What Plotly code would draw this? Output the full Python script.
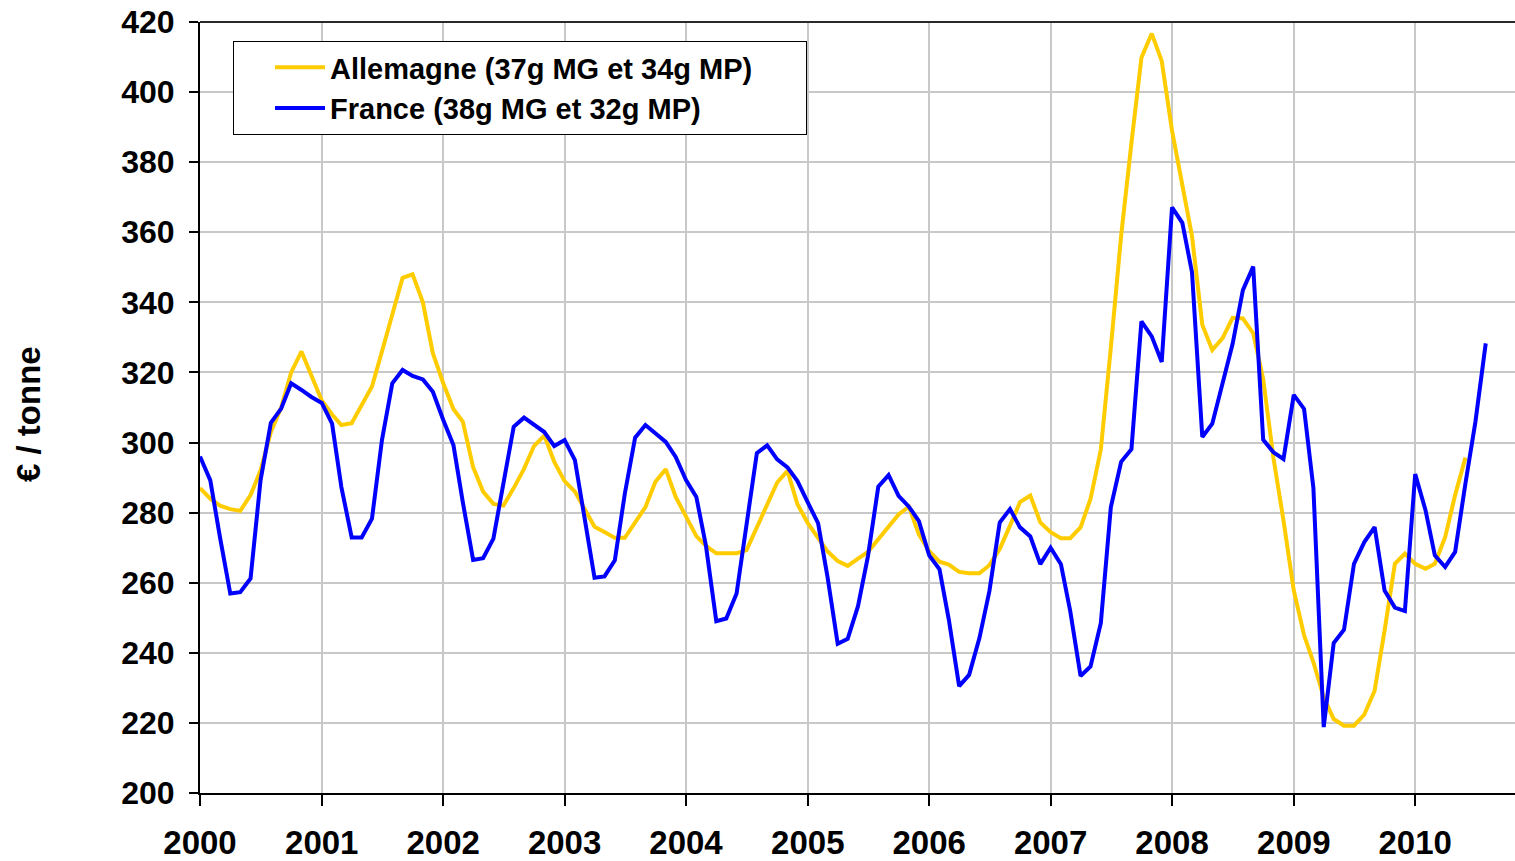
import pandas as pd
import plotly.graph_objects as go

allemagne = [
    287, 284, 282, 281, 280.5, 285, 292, 303, 310, 320, 326, 319,
    312, 308, 305, 305.5, 310.5, 316, 326, 336, 347, 348, 340, 325.5,
    317, 309.5, 306, 293, 286, 282.5, 282, 287, 292.5, 299, 302, 294.5,
    289, 286, 281, 276, 274.5, 272.8, 272.8, 277, 281.6, 288.8, 292.4, 284.5,
    279, 273.3, 270.5, 268.4, 268.4, 268.4, 269.3, 275.7, 282.4, 288.6, 291.9, 282.4,
    277, 272.9, 269, 266.2, 264.8, 266.9, 268.8, 272.4, 276.2, 279.5, 281.7, 273.8,
    269, 266, 265.2, 263.1, 262.7, 262.7, 265, 269.6, 276.3, 283, 284.9, 277.2,
    274.4, 272.7, 272.7, 275.8, 283.9, 298, 327, 359, 385.5, 409.8, 416.7, 408.9,
    389, 373.6, 358.9, 333.6, 326.4, 329.8, 335.6, 335.4, 331.2, 318.1, 295.5, 277.8,
    257.8, 245, 237.3, 227.3, 221.1, 219.2, 219.2, 222.4, 229.2, 246.4, 265.4, 268.3,
    265.4, 264, 265.4, 273, 285, 295.7,
]

france = [
    296, 289.2, 273, 256.9, 257.3, 261.2, 289.2, 305.6, 309.7, 316.9, 315, 313,
    311.3, 305.4, 287.3, 272.9, 272.9, 278.3, 300.7, 316.9, 320.7, 319, 318, 314.5,
    306.5, 299.2, 283, 266.5, 267, 272.6, 288.3, 304.5, 307.1, 305, 303, 299,
    300.7, 295, 278.8, 261.4, 261.8, 266.4, 285.4, 301.4, 305, 302.8, 300.2, 295.9,
    289.3, 284.5, 270.5, 249, 249.8, 256.9, 276.2, 297, 299.2, 295.2, 292.9, 289,
    282.9, 277, 261.9, 242.6, 244, 253.3, 267.6, 287.4, 290.7, 284.8, 281.7, 277.6,
    267.8, 263.8, 249.5, 230.5, 233.7, 244.2, 257.6, 277.2, 281, 275.8, 273.2, 265.3,
    270, 265.3, 251.9, 233.4, 236.1, 248.5, 281.5, 294.5, 298.1, 334.6, 330.3, 323,
    367.1, 362.7, 348.6, 301.6, 305.4, 316.7, 328.1, 343.5, 350.2, 300.8, 297.2, 295.3,
    313.6, 309.6, 287, 218.8, 242.8, 246.6, 265.4, 271.6, 275.9, 257.8, 252.9, 251.9,
    291, 280.7, 267.8, 264.5, 268.8, 288.3, 305.9, 328.3,
]

mois_all = pd.date_range("2000-01-01", periods=len(allemagne), freq="MS")
mois_fr = pd.date_range("2000-01-01", periods=len(france), freq="MS")

FONT = "Liberation Sans, Arial, sans-serif"
PAD = "\u00a0" * 6  # widens the legend box to the right, like the original

fig = go.Figure()
fig.add_trace(go.Scatter(x=mois_all, y=allemagne, mode="lines",
                         name="Allemagne (37g MG et 34g MP)" + PAD,
                         line=dict(color="#FFCC00", width=4)))
fig.add_trace(go.Scatter(x=mois_fr, y=france, mode="lines",
                         name="France (38g MG et 32g MP)",
                         line=dict(color="#0000FF", width=4)))

fig.update_layout(
    width=1515, height=861,
    margin=dict(l=200, r=0, t=22, b=68),
    paper_bgcolor="white", plot_bgcolor="white",
    font=dict(family=FONT, color="black", size=32, weight="bold"),
    showlegend=True,
    legend=dict(x=0.0251, y=0.9754, xanchor="left", yanchor="top",
                bgcolor="white", bordercolor="black", borderwidth=1,
                font=dict(family=FONT, size=29, weight="bold"),
                itemwidth=50, tracegroupgap=0, indentation=36),
)
fig.update_xaxes(
    type="date", range=["2000-01-01", "2010-10-28"],
    dtick="M12", tick0="2000-01-01", tickformat="%Y",
    showgrid=True, gridcolor="#C8C8C8", gridwidth=1.5,
    showline=True, linecolor="black", linewidth=2,
    ticks="outside", ticklen=11, tickwidth=2, tickcolor="black",
    ticklabelstandoff=8, automargin=False,
    tickfont=dict(family=FONT, size=33, weight="bold"),
    zeroline=False,
)
fig.update_yaxes(
    range=[200, 420], dtick=20, tick0=200,
    showgrid=True, gridcolor="#C8C8C8", gridwidth=1.5,
    showline=True, linecolor="black", linewidth=2,
    ticks="outside", ticklen=9, tickwidth=2, tickcolor="black",
    ticklabelstandoff=8, automargin=False,
    tickfont=dict(family=FONT, size=32, weight="bold"),
    zeroline=False,
)
# top border of the plot area
fig.add_shape(type="line", xref="paper", yref="paper", x0=0, x1=1, y0=1, y1=1,
              line=dict(color="#2A2A2A", width=2))
fig.add_annotation(text="€ / tonne", xref="paper", yref="paper",
                   x=-0.130, y=0.4916, xanchor="center", yanchor="middle",
                   textangle=-90, showarrow=False,
                   font=dict(family=FONT, size=33, weight="bold"))

fig.write_html("out.html", config={"displayModeBar": False},
               post_script="document.body.style.margin='0px';")
